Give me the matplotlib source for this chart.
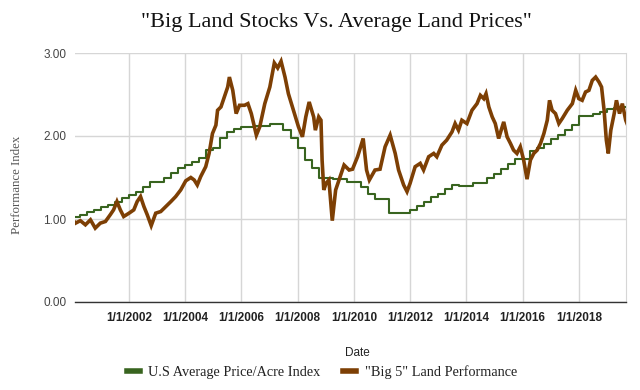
import pandas as pd
import matplotlib.pyplot as plt
import matplotlib.dates as mdates

# U.S average price/acre index, quarterly from 2000Q1
land_start = "2000-01-01"
land_end = "2019-09-01"
land_index = [
    1.03, 1.05, 1.09, 1.11,
    1.15, 1.17, 1.20, 1.25,
    1.29, 1.33, 1.39, 1.44,
    1.45, 1.50, 1.56, 1.61,
    1.65, 1.69, 1.74, 1.83,
    1.85, 1.97, 2.05, 2.09,
    2.11, 2.11, 2.12, 2.12,
    2.14, 2.14, 2.07, 1.97,
    1.85, 1.71, 1.61, 1.49,
    1.49, 1.48, 1.48, 1.45,
    1.45, 1.39, 1.30, 1.24,
    1.24, 1.07, 1.07, 1.07,
    1.11, 1.16, 1.20, 1.26,
    1.30, 1.36, 1.41, 1.40,
    1.40, 1.43, 1.43, 1.49,
    1.54, 1.60, 1.66, 1.72,
    1.72, 1.82, 1.86, 1.90,
    1.96, 2.01, 2.07, 2.13,
    2.24, 2.24, 2.26, 2.29,
    2.33, 2.34, 2.35,
]

# "Big 5" land stocks, decimal year -> index
big5_years = [
    2000.05, 2000.10, 2000.27, 2000.45, 2000.63, 2000.80, 2000.98, 2001.16,
    2001.33, 2001.45, 2001.57, 2001.69, 2001.81, 2002.00, 2002.17, 2002.29,
    2002.41, 2002.53, 2002.65, 2002.79, 2002.95, 2003.13, 2003.31, 2003.49,
    2003.66, 2003.84, 2004.02, 2004.20, 2004.32, 2004.43, 2004.55, 2004.73,
    2004.85, 2004.97, 2005.09, 2005.15, 2005.27, 2005.39, 2005.51, 2005.57,
    2005.69, 2005.81, 2005.93, 2006.11, 2006.23, 2006.35, 2006.53, 2006.65,
    2006.83, 2007.01, 2007.17, 2007.29, 2007.41, 2007.55, 2007.67, 2007.85,
    2008.03, 2008.17, 2008.29, 2008.41, 2008.57, 2008.63, 2008.75, 2008.83,
    2008.87, 2008.93, 2009.01, 2009.11, 2009.23, 2009.35, 2009.49, 2009.65,
    2009.83, 2009.95, 2010.13, 2010.33, 2010.45, 2010.55, 2010.75, 2010.93,
    2011.11, 2011.29, 2011.47, 2011.59, 2011.77, 2011.89, 2012.00, 2012.18,
    2012.36, 2012.48, 2012.66, 2012.84, 2012.95, 2013.13, 2013.30, 2013.49,
    2013.60, 2013.72, 2013.84, 2014.02, 2014.20, 2014.38, 2014.50, 2014.62,
    2014.70, 2014.80, 2014.92, 2015.03, 2015.15, 2015.33, 2015.45, 2015.57,
    2015.68, 2015.80, 2015.92, 2016.04, 2016.16, 2016.28, 2016.40, 2016.52,
    2016.64, 2016.76, 2016.88, 2016.96, 2017.05, 2017.17, 2017.29, 2017.41,
    2017.59, 2017.77, 2017.89, 2018.00, 2018.12, 2018.24, 2018.36, 2018.48,
    2018.60, 2018.72, 2018.81, 2018.90, 2018.98, 2019.05, 2019.14, 2019.26,
    2019.34, 2019.45, 2019.55, 2019.67, 2019.74,
]
big5_values = [
    0.97, 0.95, 0.98, 0.93, 0.99, 0.89, 0.95, 0.97,
    1.05, 1.11, 1.21, 1.11, 1.03, 1.07, 1.11, 1.21,
    1.27, 1.15, 1.05, 0.92, 1.07, 1.09, 1.15, 1.21,
    1.27, 1.35, 1.46, 1.50, 1.47, 1.41, 1.51, 1.63,
    1.79, 2.03, 2.13, 2.31, 2.35, 2.47, 2.59, 2.71,
    2.55, 2.27, 2.37, 2.37, 2.39, 2.27, 2.01, 2.11,
    2.39, 2.59, 2.88, 2.82, 2.90, 2.71, 2.51, 2.31,
    2.11, 1.99, 2.23, 2.41, 2.23, 2.07, 2.23, 2.19,
    1.71, 1.35, 1.43, 1.47, 0.98, 1.35, 1.49, 1.65,
    1.59, 1.60, 1.75, 1.97, 1.59, 1.47, 1.59, 1.60,
    1.87, 2.01, 1.79, 1.59, 1.41, 1.33, 1.43, 1.63,
    1.67, 1.59, 1.75, 1.79, 1.75, 1.89, 1.95, 2.05,
    2.15, 2.07, 2.19, 2.15, 2.31, 2.39, 2.49, 2.45,
    2.51, 2.35, 2.23, 2.15, 1.97, 2.17, 1.99, 1.91,
    1.83, 1.79, 1.87, 1.71, 1.48, 1.71, 1.79, 1.83,
    1.91, 2.03, 2.19, 2.43, 2.31, 2.27, 2.15, 2.21,
    2.31, 2.39, 2.55, 2.45, 2.43, 2.53, 2.55, 2.67,
    2.71, 2.65, 2.59, 2.31, 1.95, 1.79, 2.07, 2.27,
    2.43, 2.27, 2.39, 2.19, 2.13,
]

y_ticks = [0, 1, 2, 3]
x_tick_years = [2002, 2004, 2006, 2008, 2010, 2012, 2014, 2016, 2018]


def to_date(y):
    yr = int(y)
    return pd.Timestamp(yr, 1, 1) + pd.Timedelta(days=(y - yr) * 365.25)


def main():
    green = "#38641f"
    brown = "#7d3f04"

    fig = plt.figure(figsize=(6.4, 3.9), dpi=100)
    ax = fig.add_axes([75 / 640, 88 / 390, 551 / 640, 249 / 390])

    q_dates = list(pd.date_range(land_start, periods=len(land_index), freq="QS"))
    q_dates.append(pd.Timestamp(land_end))
    q_vals = land_index + [land_index[-1]]
    ax.plot(q_dates, q_vals, drawstyle="steps-post", color=green, lw=1.5,
            label="U.S Average Price/Acre Index", zorder=3)

    b_dates = [to_date(y) for y in big5_years]
    ax.plot(b_dates, big5_values, color=brown, lw=2.6, solid_joinstyle="miter",
            label='"Big 5" Land Performance', zorder=4)

    ax.set_xlim(to_date(2000.08), to_date(2019.68))
    ax.set_ylim(0, 3)
    ax.set_yticks(y_ticks)
    ax.set_yticklabels([f"{v:.2f}" for v in y_ticks], fontsize=8.5,
                       color="#444444", family="Liberation Sans")
    ax.set_xticks([pd.Timestamp(y, 1, 1) for y in x_tick_years])
    ax.set_xticklabels([f"1/1/{y}" for y in x_tick_years], fontsize=8.5,
                       color="#222222", family="Liberation Sans", weight="bold")
    ax.tick_params(length=0, pad=6)
    ax.tick_params(axis="x", pad=7)

    ax.grid(True, color="#d6d6d6", lw=1)
    ax.set_axisbelow(True)
    for side in ["left", "top"]:
        ax.spines[side].set_visible(False)
    ax.spines["right"].set_color("#d6d6d6")
    ax.spines["bottom"].set_color("#333333")
    ax.spines["bottom"].set_linewidth(1)

    fig.text(336 / 640, 1 - 22 / 390, '"Big Land Stocks Vs. Average Land Prices"',
             ha="center", va="center", fontsize=16, family="Liberation Serif",
             color="#111111")
    fig.text(17 / 640, 1 - 185 / 390, "Performance Index", rotation=90,
             ha="center", va="center", fontsize=9.3, family="Liberation Serif",
             color="#555555")
    fig.text(357 / 640, 1 - 353 / 390, "Date", ha="center", va="center",
             fontsize=8.5, family="Liberation Sans", color="#222222")

    handles, labels = ax.get_legend_handles_labels()
    leg = fig.legend(handles, labels, loc="center", bbox_to_anchor=(322 / 640, 1 - 372 / 390),
                     ncol=2, frameon=False, handlelength=0.9, columnspacing=1.6,
                     handletextpad=0.6, prop={"family": "Liberation Serif", "size": 10.3})
    for h in leg.legend_handles:
        h.set_linewidth(4)
    for t in leg.get_texts():
        t.set_color("#222222")

    fig.savefig("out.png", dpi=100)
    plt.close(fig)


if __name__ == "__main__":
    main()
